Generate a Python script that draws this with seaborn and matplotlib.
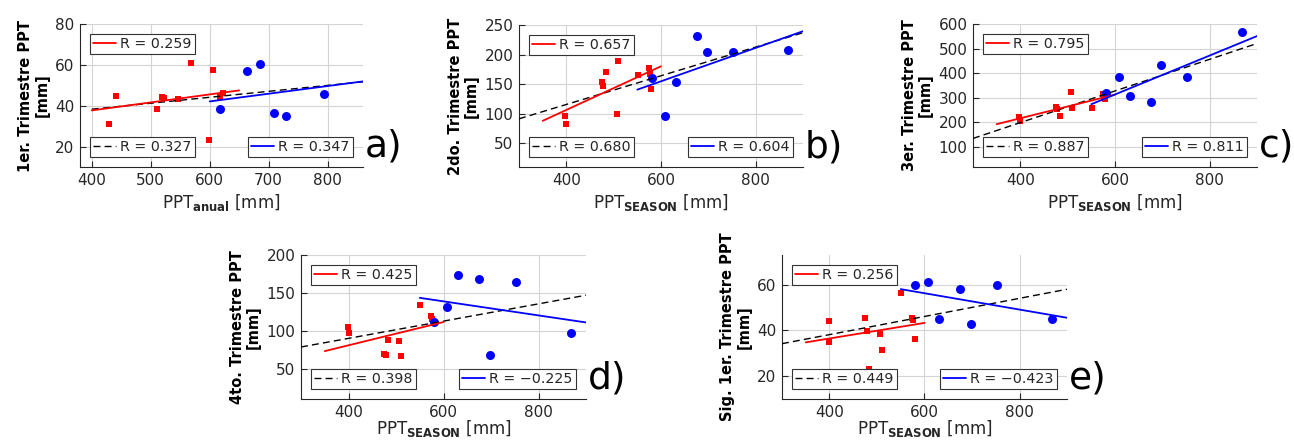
import numpy as np
import pandas as pd
import matplotlib
matplotlib.use("Agg")
import matplotlib.pyplot as plt
import seaborn as sns

sns.set_theme(style="white")
plt.rcParams['font.family'] = ['DejaVu Sans']
plt.rcParams['mathtext.fontset'] = 'dejavusans'

# ---------------- data ----------------
# panel a (annual precipitation on x)
a_red_x = [429, 441, 511, 519, 523, 547, 568, 599, 606, 618, 623]
a_red_y = [31, 45, 38.3, 44.5, 44, 43.2, 61, 23, 57.6, 44.5, 46]
a_blue_x = [617, 663, 686, 709, 730, 794]
a_blue_y = [38.3, 56.8, 60.4, 36.4, 35, 45.7]
# fitted lines of panel a as drawn in the source (value at start / end of span)
a_fit_red = [37.7, 47.5]
a_fit_all = [38.3, 51.7]
a_fit_blue = [42.1, 51.9]

# panels b-e (seasonal precipitation on x)
season_red_x = [398, 400, 475, 478, 484, 506, 510, 551, 574, 576, 579]
season_blue_x = [581, 608, 631, 675, 697, 753, 868]

b_red_y = [97, 82, 154, 147, 170, 99, 189, 165, 177, 167, 141]
b_blue_y = [160, 97, 153, 231, 204, 205, 207]
c_red_y = [223, 205, 263, 253, 225, 325, 258, 257, 315, 305, 294]
c_blue_y = [318, 386, 307, 283, 432, 386, 566]
d_red_y = [105, 97, 70, 68, 88, 87, 67, 134, 120, 115, 112]
d_blue_y = [112, 131, 174, 168, 68, 165, 97]
e_red_y = [44, 35, 45.6, 39.8, 23, 38.3, 31.4, 56.3, 45.4, 44.7, 36.3]
e_blue_y = [60, 61, 45, 58, 43, 60, 45]

r_red = ['0.259', '0.657', '0.795', '0.425', '0.256']
r_all = ['0.327', '0.680', '0.887', '0.398', '0.449']
r_blue = ['0.347', '0.604', '0.811', '\u22120.225', '\u22120.423']

ylabels = ['1er. Trimestre PPT\n[mm]', '2do. Trimestre PPT\n[mm]',
           '3er. Trimestre PPT\n[mm]', '4to. Trimestre PPT\n[mm]',
           'Sig. 1er. Trimestre PPT\n[mm]']
xlabels = [r'PPT$_{\mathbf{anual}}$ [mm]'] + [r'PPT$_{\mathbf{SEASON}}$ [mm]'] * 4
panel_tags = ['a)', 'b)', 'c)', 'd)', 'e)']

yticks = [[20, 40, 60, 80], [50, 100, 150, 200, 250], [100, 200, 300, 400, 500, 600],
          [50, 100, 150, 200], [20, 40, 60]]
xticks = [[400, 500, 600, 700, 800]] + [[400, 600, 800]] * 4

# ---------------- layout ----------------
W, H = 1294, 442
boxes_px = [(80, 363, 24, 167), (519, 803, 25, 167), (973, 1257, 24, 167),
            (301, 586, 255, 399), (782, 1067, 255, 399)]
xlims = [(380, 860), (300, 900), (300, 900), (300, 900), (300, 900)]
ylims = [(10, 80), (10, 250), (18, 600), (10, 200), (10, 73)]
red_span = [(400, 650)] + [(350, 600)] * 4
blue_span = [(600, 860)] + [(550, 900)] * 4
all_span = [(400, 860)] + [(300, 900)] * 4

fig = plt.figure(figsize=(W / 100, H / 100), dpi=100)
fig.patch.set_facecolor('white')

panels = [
    (a_red_x, a_red_y, a_blue_x, a_blue_y),
    (season_red_x, b_red_y, season_blue_x, b_blue_y),
    (season_red_x, c_red_y, season_blue_x, c_blue_y),
    (season_red_x, d_red_y, season_blue_x, d_blue_y),
    (season_red_x, e_red_y, season_blue_x, e_blue_y),
]

TXT = '#262626'
RED = '#ff0000'
BLUE = '#0000ff'

for i, (rx, ry, bx, by) in enumerate(panels):
    l, r, t, b = boxes_px[i]
    ax = fig.add_axes([l / W, 1 - b / H, (r - l) / W, (b - t) / H])
    ax.set_facecolor('white')

    df_r = pd.DataFrame({'x': rx, 'y': ry})
    df_b = pd.DataFrame({'x': bx, 'y': by})
    sns.scatterplot(data=df_r, x='x', y='y', ax=ax, marker='s', s=24,
                    color=RED, edgecolor=RED, linewidth=0, zorder=3)
    sns.scatterplot(data=df_b, x='x', y='y', ax=ax, marker='o', s=42,
                    color=BLUE, edgecolor=BLUE, linewidth=0, zorder=3)

    xa = np.array(all_span[i], float)
    xr = np.array(red_span[i], float)
    xb = np.array(blue_span[i], float)
    if i == 0:
        ya, yr, yb = np.array(a_fit_all), np.array(a_fit_red), np.array(a_fit_blue)
    else:
        allx = np.array(list(rx) + list(bx), dtype=float)
        ally = np.array(list(ry) + list(by), dtype=float)
        pa = np.polyfit(allx, ally, 1)
        pr = np.polyfit(np.array(rx, float), np.array(ry, float), 1)
        pb = np.polyfit(np.array(bx, float), np.array(by, float), 1)
        ya, yr, yb = np.polyval(pa, xa), np.polyval(pr, xr), np.polyval(pb, xb)

    la, = ax.plot(xa, ya, color='black', lw=1.0, dashes=(5, 3), zorder=4)
    lr, = ax.plot(xr, yr, color=RED, lw=1.3, zorder=5)
    lb, = ax.plot(xb, yb, color=BLUE, lw=1.3, zorder=5)

    ax.set_xlim(*xlims[i])
    ax.set_ylim(*ylims[i])
    ax.set_xticks(xticks[i])
    ax.set_yticks(yticks[i])
    ax.grid(True, color='#d4d4d4', lw=0.8, zorder=0)
    ax.set_axisbelow(True)
    for s in ['top', 'right']:
        ax.spines[s].set_visible(False)
    for s in ['left', 'bottom']:
        ax.spines[s].set_color(TXT)
        ax.spines[s].set_linewidth(0.8)
    ax.tick_params(direction='in', length=4, width=0.8, colors=TXT,
                   labelsize=11, left=True, bottom=True, pad=4)

    ax.set_xlabel(xlabels[i], fontsize=12, color=TXT,
                  labelpad=3 if i < 3 else -1)
    ax.set_ylabel(ylabels[i], fontsize=10.5, fontweight='bold', color='black',
                  labelpad=4, linespacing=1.1)

    legkw = dict(fontsize=10.3, frameon=True, fancybox=False, framealpha=1,
                 edgecolor='#333333', borderpad=0.22, handlelength=1.6,
                 handletextpad=0.3, borderaxespad=0.7)
    leg1 = ax.legend([lr], ['R = ' + r_red[i]], loc='upper left', **legkw)
    leg1.get_frame().set_linewidth(0.8)
    ax.add_artist(leg1)
    leg2 = ax.legend([la], ['R = ' + r_all[i]], loc='lower left', **legkw)
    leg2.get_frame().set_linewidth(0.8)
    ax.add_artist(leg2)
    leg3 = ax.legend([lb], ['R = ' + r_blue[i]], loc='lower right', **legkw)
    leg3.get_frame().set_linewidth(0.8)
    for lg in (leg1, leg2, leg3):
        lg.set_zorder(10)

    ax.text(1.005, 0.14, panel_tags[i], transform=ax.transAxes, fontsize=27,
            ha='left', va='center', color='black')

fig.savefig('out.png', dpi=100, facecolor='white')
